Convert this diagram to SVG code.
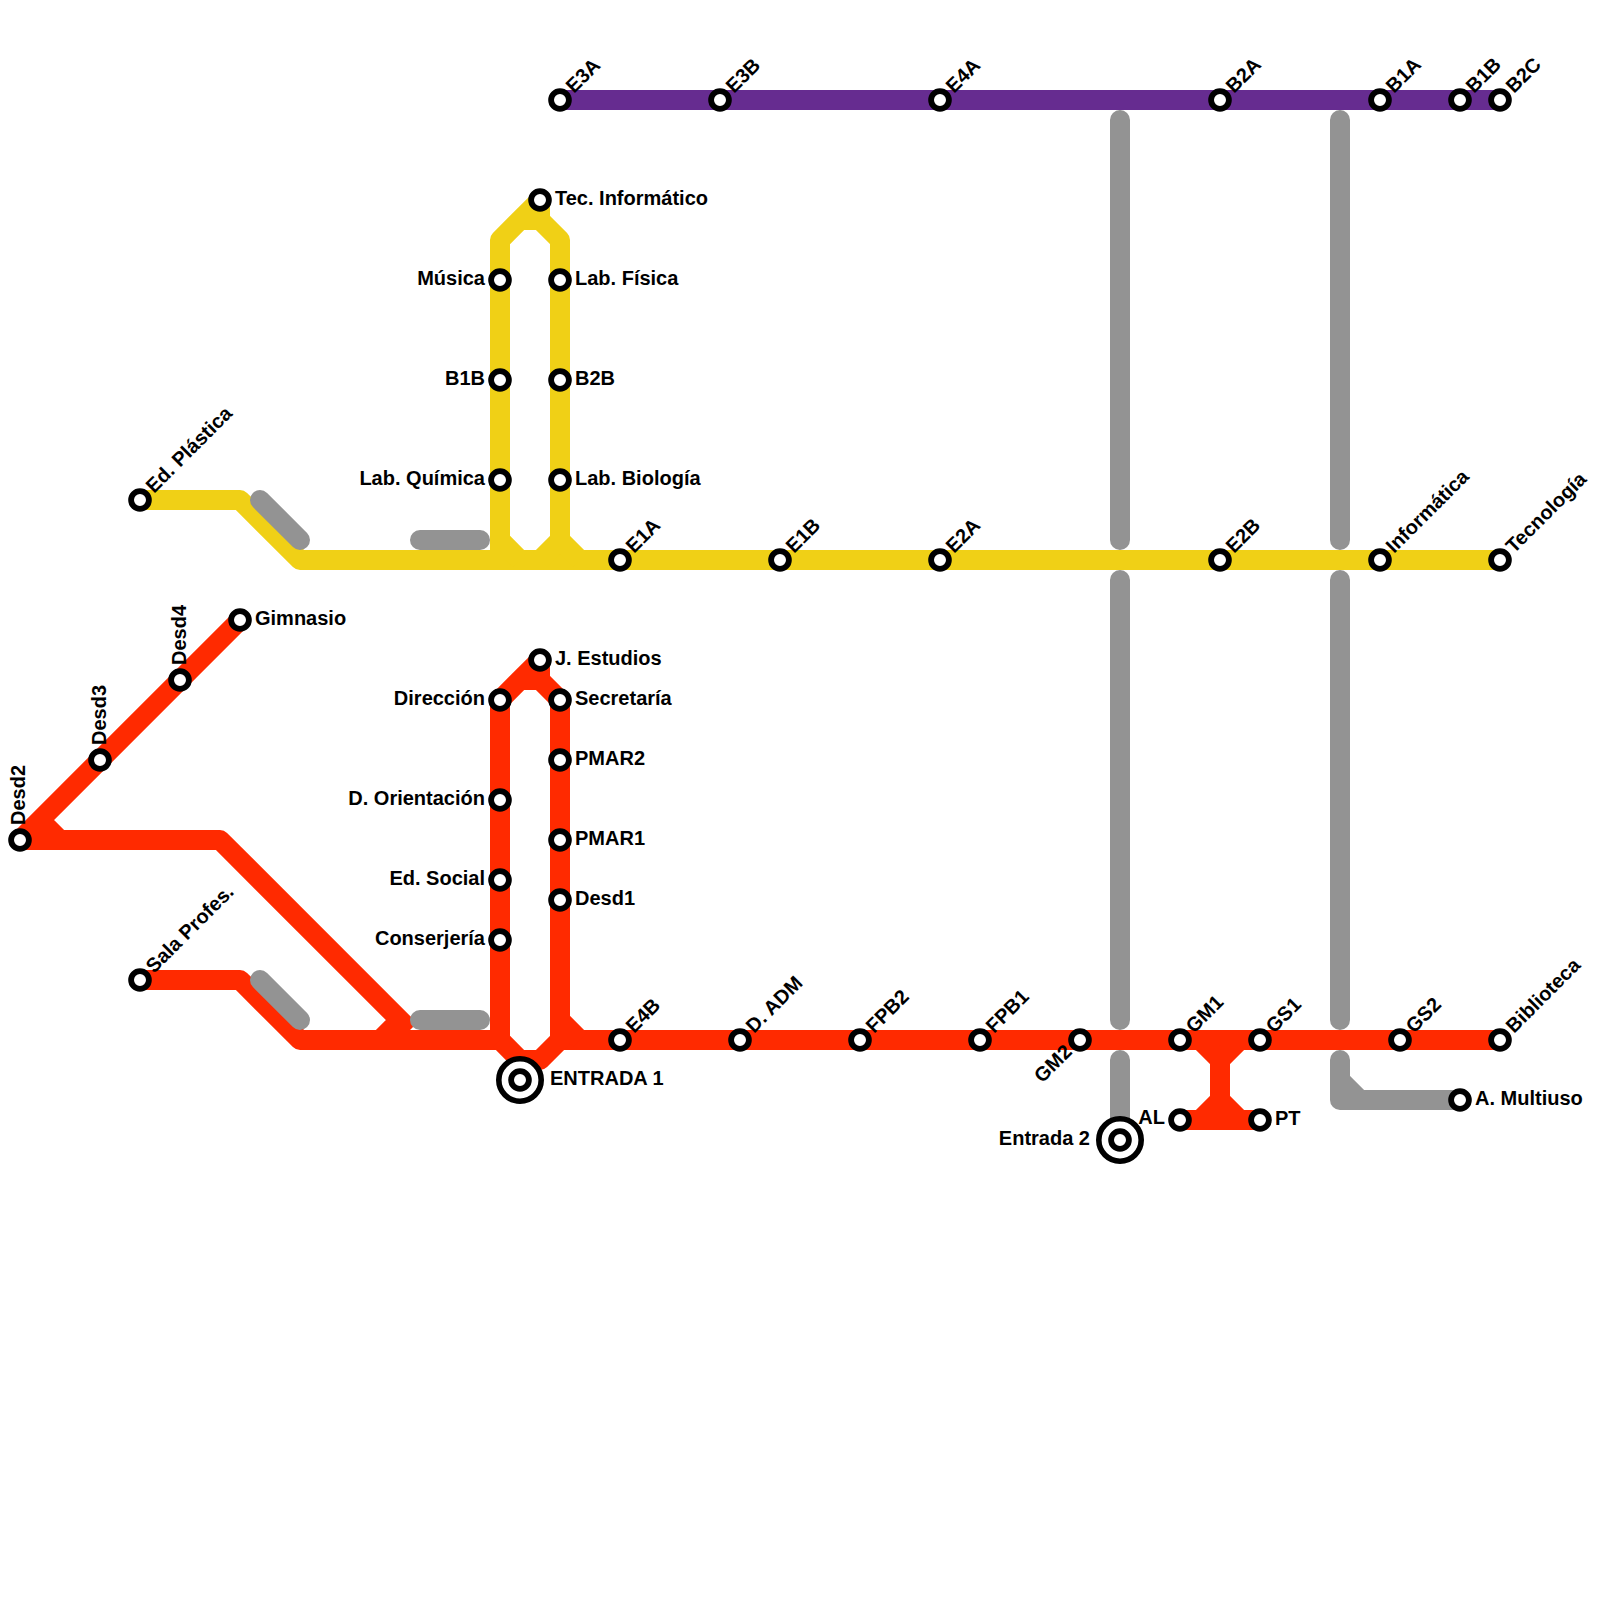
<svg xmlns="http://www.w3.org/2000/svg" width="1600" height="1600" viewBox="0 0 1600 1600">
<style>
.ln{fill:none;stroke-width:20;stroke-linejoin:round;stroke-linecap:butt}
.red{stroke:#ff2a00}.yel{stroke:#f0d016}.pur{stroke:#662c90}
.gry{stroke:#939393;stroke-linecap:round}
.st{fill:#fff;stroke:#000;stroke-width:5.8}
.ring{fill:#fff;stroke:#000;stroke-width:5.6}
text{font-family:"Liberation Sans",Arial,sans-serif;font-weight:700;font-size:20px;fill:#000}
.e{text-anchor:end}
</style>
<defs>
<g id="s"><circle class="st" r="8.9"/></g>
<g id="x"><circle class="ring" r="21.2"/><circle class="st" r="8.9"/></g>
</defs>
<rect width="1600" height="1600" fill="#fff"/>
<g id="connectors">
<path class="ln pur" d="M560 100H1500"/>
<path class="ln yel" d="M140 500H240L300 560H1500"/>
<path class="ln yel" d="M500 560V240L540 200V220L560 240V540L580 560M560 540L540 560M500 540L520 560M520 220H540M500 240L520 220"/>
<path class="ln red" d="M240 620L20 840H220L410 1030M400 1020L380 1040M40 820L60 840"/>
<path class="ln red" d="M140 980H240L300 1040H500M560 1040H1500"/>
<path class="ln red" d="M500 1040V700L540 660V680L560 700V1020L580 1040M560 1020V1040L540 1060H520L500 1040M520 1060V1080M520 680H540M500 700L520 680"/>
<path class="ln red" d="M1180 1120H1260M1200 1040L1220 1060V1100L1200 1120M1240 1040L1220 1060M1220 1100L1240 1120"/>
<path class="ln gry" d="M1120 120V540M1120 580V1020M1120 1060V1140M1340 120V540M1340 580V1020M260 500L300 540M420 540H480M260 980L300 1020M420 1020H480"/>
<path class="ln gry" d="M1340 1060V1100H1460M1340 1080L1360 1100"/>
</g>
<g id="n-e3a"><use href="#s" x="560" y="100"/><text transform="translate(574 94) rotate(-45)">E3A</text></g>
<g id="n-e3b"><use href="#s" x="720" y="100"/><text transform="translate(734 94) rotate(-45)">E3B</text></g>
<g id="n-e4a"><use href="#s" x="940" y="100"/><text transform="translate(954 94) rotate(-45)">E4A</text></g>
<g id="n-b2a"><use href="#s" x="1220" y="100"/><text transform="translate(1234 94) rotate(-45)">B2A</text></g>
<g id="n-b1a"><use href="#s" x="1380" y="100"/><text transform="translate(1394 94) rotate(-45)">B1A</text></g>
<g id="n-b1b"><use href="#s" x="1460" y="100"/><text transform="translate(1474 94) rotate(-45)">B1B</text></g>
<g id="n-b2c"><use href="#s" x="1500" y="100"/><text transform="translate(1514 94) rotate(-45)">B2C</text></g>
<g id="n-tec"><use href="#s" x="540" y="200"/><text x="555" y="205">Tec. Informático</text></g>
<g id="n-musica"><use href="#s" x="500" y="280"/><text class="e" x="485" y="285">Música</text></g>
<g id="n-b1b2"><use href="#s" x="500" y="380"/><text class="e" x="485" y="385">B1B</text></g>
<g id="n-lquim"><use href="#s" x="500" y="480"/><text class="e" x="485" y="485">Lab. Química</text></g>
<g id="n-lfis"><use href="#s" x="560" y="280"/><text x="575" y="285">Lab. Física</text></g>
<g id="n-b2b"><use href="#s" x="560" y="380"/><text x="575" y="385">B2B</text></g>
<g id="n-lbio"><use href="#s" x="560" y="480"/><text x="575" y="485">Lab. Biología</text></g>
<g id="n-edpl"><use href="#s" x="140" y="500"/><text transform="translate(154 494) rotate(-45)">Ed. Plástica</text></g>
<g id="n-e1a"><use href="#s" x="620" y="560"/><text transform="translate(634 554) rotate(-45)">E1A</text></g>
<g id="n-e1b"><use href="#s" x="780" y="560"/><text transform="translate(794 554) rotate(-45)">E1B</text></g>
<g id="n-e2a"><use href="#s" x="940" y="560"/><text transform="translate(954 554) rotate(-45)">E2A</text></g>
<g id="n-e2b"><use href="#s" x="1220" y="560"/><text transform="translate(1234 554) rotate(-45)">E2B</text></g>
<g id="n-inf"><use href="#s" x="1380" y="560"/><text transform="translate(1394 554) rotate(-45)">Informática</text></g>
<g id="n-tecn"><use href="#s" x="1500" y="560"/><text transform="translate(1514 554) rotate(-45)">Tecnología</text></g>
<g id="n-gim"><use href="#s" x="240" y="620"/><text x="255" y="625">Gimnasio</text></g>
<g id="n-d4"><use href="#s" x="180" y="680"/><text transform="translate(186 665) rotate(-90)">Desd4</text></g>
<g id="n-d3"><use href="#s" x="100" y="760"/><text transform="translate(106 745) rotate(-90)">Desd3</text></g>
<g id="n-d2"><use href="#s" x="20" y="840"/><text transform="translate(25 825) rotate(-90)">Desd2</text></g>
<g id="n-jest"><use href="#s" x="540" y="660"/><text x="555" y="665">J. Estudios</text></g>
<g id="n-dir"><use href="#s" x="500" y="700"/><text class="e" x="485" y="705">Dirección</text></g>
<g id="n-dori"><use href="#s" x="500" y="800"/><text class="e" x="485" y="805">D. Orientación</text></g>
<g id="n-edso"><use href="#s" x="500" y="880"/><text class="e" x="485" y="885">Ed. Social</text></g>
<g id="n-cons"><use href="#s" x="500" y="940"/><text class="e" x="485" y="945">Conserjería</text></g>
<g id="n-sec"><use href="#s" x="560" y="700"/><text x="575" y="705">Secretaría</text></g>
<g id="n-pm2"><use href="#s" x="560" y="760"/><text x="575" y="765">PMAR2</text></g>
<g id="n-pm1"><use href="#s" x="560" y="840"/><text x="575" y="845">PMAR1</text></g>
<g id="n-d1"><use href="#s" x="560" y="900"/><text x="575" y="905">Desd1</text></g>
<g id="n-sala"><use href="#s" x="140" y="980"/><text transform="translate(154 974) rotate(-45)">Sala Profes.</text></g>
<g id="n-e4b"><use href="#s" x="620" y="1040"/><text transform="translate(634 1034) rotate(-45)">E4B</text></g>
<g id="n-dadm"><use href="#s" x="740" y="1040"/><text transform="translate(754 1034) rotate(-45)">D. ADM</text></g>
<g id="n-fpb2"><use href="#s" x="860" y="1040"/><text transform="translate(874 1034) rotate(-45)">FPB2</text></g>
<g id="n-fpb1"><use href="#s" x="980" y="1040"/><text transform="translate(994 1034) rotate(-45)">FPB1</text></g>
<g id="n-gm2"><use href="#s" x="1080" y="1040"/><text class="e" transform="translate(1073 1053) rotate(-45)">GM2</text></g>
<g id="n-gm1"><use href="#s" x="1180" y="1040"/><text transform="translate(1194 1034) rotate(-45)">GM1</text></g>
<g id="n-gs1"><use href="#s" x="1260" y="1040"/><text transform="translate(1274 1034) rotate(-45)">GS1</text></g>
<g id="n-gs2"><use href="#s" x="1400" y="1040"/><text transform="translate(1414 1034) rotate(-45)">GS2</text></g>
<g id="n-bib"><use href="#s" x="1500" y="1040"/><text transform="translate(1514 1034) rotate(-45)">Biblioteca</text></g>
<g id="n-al"><use href="#s" x="1180" y="1120"/><text class="e" x="1165" y="1124">AL</text></g>
<g id="n-pt"><use href="#s" x="1260" y="1120"/><text x="1275" y="1125">PT</text></g>
<g id="n-mult"><use href="#s" x="1460" y="1100"/><text x="1475" y="1105">A. Multiuso</text></g>
<g id="n-ent1"><use href="#x" x="520" y="1080"/><text x="550" y="1085">ENTRADA 1</text></g>
<g id="n-ent2"><use href="#x" x="1120" y="1140"/><text class="e" x="1090" y="1145">Entrada 2</text></g>
</svg>
